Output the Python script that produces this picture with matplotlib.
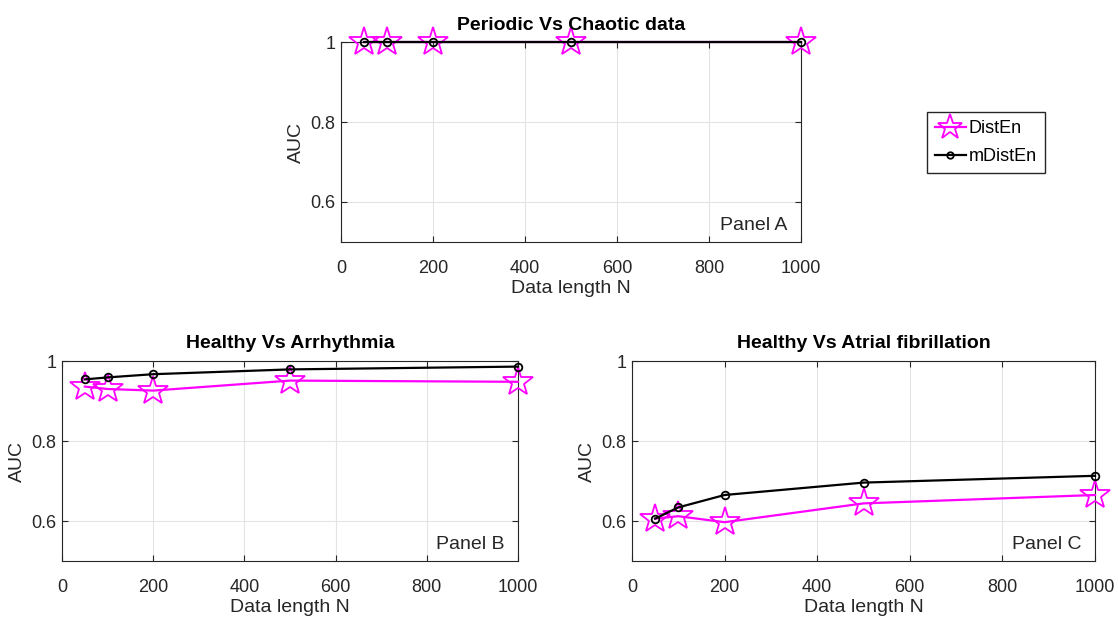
import matplotlib
matplotlib.use("Agg")
import matplotlib.pyplot as plt

plt.rcParams['font.family'] = ['Liberation Sans Narrow', 'Liberation Sans', 'DejaVu Sans']

N = [50, 100, 200, 500, 1000]
distEn_A = [1.0, 1.0, 1.0, 1.0, 1.0]
mdistEn_A = [1.0, 1.0, 1.0, 1.0, 1.0]
distEn_B = [0.936, 0.930, 0.926, 0.951, 0.948]
mdistEn_B = [0.954, 0.959, 0.967, 0.979, 0.986]
distEn_C = [0.606, 0.612, 0.597, 0.644, 0.665]
mdistEn_C = [0.606, 0.634, 0.665, 0.696, 0.713]

titles = ["Periodic Vs Chaotic data", "Healthy Vs Arrhythmia", "Healthy Vs Atrial fibrillation"]
panels = ["Panel A", "Panel B", "Panel C"]
xticks = [0, 200, 400, 600, 800, 1000]
yticks = [0.6, 0.8, 1.0]
yticklabels = ["0.6", "0.8", "1"]

W, H = 1118, 626
fig = plt.figure(figsize=(W / 100, H / 100), dpi=100)

rects = [
    (341, 42, 801, 242),
    (62, 361, 518, 561),
    (632, 361, 1095, 561),
]
data = [(distEn_A, mdistEn_A), (distEn_B, mdistEn_B), (distEn_C, mdistEn_C)]

axes = []
for (l, t, r, b), (d, m), title, pl in zip(rects, data, titles, panels):
    ax = fig.add_axes([l / W, (H - b) / H, (r - l) / W, (b - t) / H])
    h1, = ax.plot(N, d, color='#ff00ff', lw=1.6, marker='*', markersize=22,
                  markerfacecolor='none', markeredgecolor='#ff00ff', markeredgewidth=1.3,
                  label='DistEn', zorder=3, clip_on=False)
    h2, = ax.plot(N, m, color='black', lw=1.6, marker='o', markersize=5.5,
                  markerfacecolor='none', markeredgecolor='black', markeredgewidth=1.3,
                  label='mDistEn', zorder=4, clip_on=False)
    ax.set_xlim(0, 1000)
    ax.set_ylim(0.5, 1.0)
    ax.set_xticks(xticks)
    ax.set_yticks(yticks)
    ax.set_yticklabels(yticklabels)
    ax.grid(True, color='#e3e3e3', lw=0.8)
    ax.set_axisbelow(True)
    ax.tick_params(direction='in', top=True, right=True, labelsize=13, length=4,
                   colors='#262626', labelcolor='#262626')
    ax.tick_params(axis='x', pad=13)
    ax.tick_params(axis='y', pad=4)
    for s in ax.spines.values():
        s.set_color('#262626')
        s.set_linewidth(0.8)
    ax.set_xlabel('Data length N', fontsize=14, color='#262626', labelpad=2)
    ax.set_ylabel('AUC', fontsize=14, color='#262626', labelpad=4)
    ax.set_title(title, fontsize=14, fontweight='bold', pad=9)
    ax.text(0.97, 0.04, pl, transform=ax.transAxes, ha='right', va='bottom',
            fontsize=14, color='#262626')
    axes.append((ax, h1, h2))

ax0, h1, h2 = axes[0]
fig.legend([h1, h2], ['DistEn', 'mDistEn'], loc='upper left',
           bbox_to_anchor=(927 / W, 1 - 112 / H), fontsize=13, frameon=True,
           fancybox=False, edgecolor='#262626', handlelength=1.7, handletextpad=0.15,
           borderpad=0.45, labelspacing=0.6, borderaxespad=0, framealpha=1,
           markerscale=0.85)

fig.savefig('out.png', dpi=100)
